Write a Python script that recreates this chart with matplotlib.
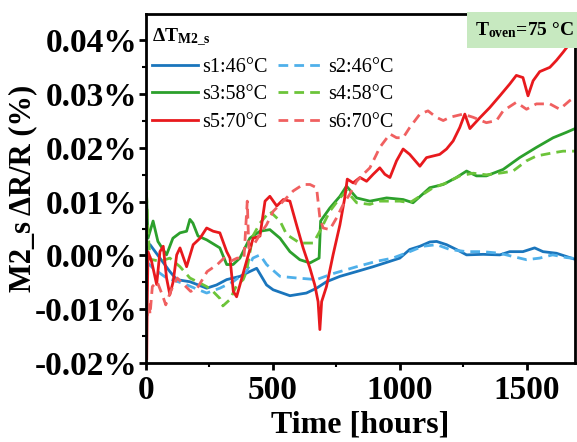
import matplotlib
matplotlib.use('Agg')
import matplotlib.pyplot as plt
from matplotlib.ticker import MultipleLocator, FuncFormatter

plt.rcParams['font.family'] = ['Liberation Serif', 'DejaVu Serif']
plt.rcParams['mathtext.fontset'] = 'custom'
plt.rcParams['mathtext.rm'] = 'Liberation Serif:bold'
plt.rcParams['mathtext.bf'] = 'Liberation Serif:bold'
plt.rcParams['mathtext.it'] = 'Liberation Serif:bold'

# data (hours, dR/R in %)
s1_t = [0, 16, 55, 94, 121, 173, 239, 278, 318, 370, 409, 436, 475, 501, 567, 632, 672, 711,
        764, 830, 895, 961, 1000, 1039, 1079, 1118, 1145, 1184, 1223, 1263, 1328, 1394, 1433,
        1485, 1531, 1564, 1617, 1656, 1695]
s1_v = [0.0010, 0.0020, -0.0005, -0.0030, -0.0045, -0.0049, -0.0061, -0.0055, -0.0045, -0.0039,
        -0.0030, -0.0024, -0.0055, -0.0064, -0.0075, -0.0070, -0.0061, -0.0049, -0.0039, -0.0030,
        -0.0021, -0.0011, -0.0005, 0.0011, 0.0017, 0.0025, 0.0026, 0.0020, 0.0011, 0.0001, 0.0002,
        0.0001, 0.0007, 0.0007, 0.0014, 0.0007, 0.0004, -0.0002, -0.0008]

s2_t = [0, 28, 81, 146, 239, 291, 343, 396, 421, 449, 475, 528, 593, 672, 736, 830, 908, 972,
        1039, 1091, 1145, 1197, 1263, 1327, 1394, 1445, 1499, 1551, 1602, 1656, 1695]
s2_v = [-0.0011, -0.0024, -0.0042, -0.0052, -0.0070, -0.0061, -0.0049, -0.0030, -0.0005, 0.0001,
        -0.0017, -0.0039, -0.0042, -0.0045, -0.0034, -0.0021, -0.0011, -0.0005, 0.0007, 0.0017,
        0.0020, 0.0011, 0.0007, 0.0007, 0.0004, -0.0002, -0.0008, -0.0005, 0.0001, -0.0004,
        -0.0006]

s3_t = [2, 8, 28, 47, 81, 106, 134, 160, 173, 185, 205, 239, 291, 318, 343, 370, 409, 449, 488,
        528, 567, 606, 646, 682, 688, 724, 764, 790, 830, 882, 948, 1013, 1052, 1118, 1171, 1223,
        1263, 1302, 1341, 1407, 1472, 1538, 1604, 1656, 1695]
s3_v = [0.0116, 0.0032, 0.0064, 0.0026, 0.0001, 0.0032, 0.0042, 0.0045, 0.0067, 0.0060, 0.0036,
        0.0029, 0.0014, -0.0017, -0.0017, -0.0005, 0.0032, 0.0045, 0.0048, 0.0032, 0.0007,
        -0.0008, -0.0014, -0.0005, 0.0064, 0.0088, 0.0110, 0.0129, 0.0107, 0.0101, 0.0107,
        0.0104, 0.0098, 0.0126, 0.0132, 0.0145, 0.0157, 0.0148, 0.0148, 0.0160, 0.0182, 0.0201,
        0.0219, 0.0229, 0.0237]

s4_t = [2, 8, 16, 55, 94, 134, 173, 239, 264, 291, 303, 331, 357, 383, 396, 421, 449, 488, 528,
        554, 606, 659, 685, 724, 764, 790, 830, 882, 921, 1000, 1039, 1079, 1131, 1184, 1236,
        1289, 1341, 1407, 1446, 1499, 1538, 1604, 1643, 1693]
s4_v = [0.0116, 0.0045, -0.0007, -0.0011, -0.0005, -0.0021, -0.0042, -0.0058, -0.0067, -0.0080,
        -0.0094, -0.0082, -0.0056, -0.0045, -0.0030, 0.0036, 0.0060, 0.0082, 0.0064, 0.0039,
        0.0023, 0.0023, 0.0045, 0.0082, 0.0107, 0.0120, 0.0098, 0.0095, 0.0101, 0.0101, 0.0098,
        0.0110, 0.0126, 0.0135, 0.0148, 0.0153, 0.0150, 0.0154, 0.0157, 0.0176, 0.0185, 0.0191,
        0.0194, 0.0194]

s5_t = [3, 5, 8, 22, 42, 55, 68, 81, 94, 107, 121, 134, 160, 186, 213, 239, 265, 291, 318, 331,
        344, 357, 370, 396, 422, 449, 469, 488, 515, 541, 567, 593, 619, 646, 665, 678, 685, 692,
        711, 737, 764, 783, 793, 816, 843, 869, 895, 921, 941, 961, 987, 1013, 1039, 1079, 1105,
        1157, 1184, 1210, 1236, 1256, 1276, 1315, 1354, 1394, 1433, 1459, 1485, 1505, 1525, 1551,
        1591, 1617, 1643, 1669, 1689]
s5_v = [-0.0192, -0.0086, 0.0007, -0.0011, -0.0054, 0.0007, 0.0017, -0.0042, -0.0073, -0.0049,
        0.0001, 0.0014, -0.0021, 0.0020, 0.0032, 0.0051, 0.0045, 0.0042, 0.0007, -0.0005, -0.0067,
        -0.0077, -0.0055, -0.0011, 0.0032, 0.0036, 0.0101, 0.0110, 0.0092, 0.0104, 0.0101, 0.0057,
        0.0014, -0.0024, -0.0055, -0.0086, -0.0138, -0.0086, -0.0058, 0.0001, 0.0057, 0.0107,
        0.0142, 0.0135, 0.0145, 0.0138, 0.0151, 0.0163, 0.0151, 0.0145, 0.0176, 0.0198, 0.0188,
        0.0166, 0.0182, 0.0188, 0.0198, 0.0213, 0.0238, 0.0263, 0.0236, 0.0256, 0.0275, 0.0297,
        0.0319, 0.0335, 0.0331, 0.0297, 0.0325, 0.0342, 0.0350, 0.0363, 0.0378, 0.0394, 0.0406]

s6_t = [2, 4, 12, 16, 25, 44, 64, 78, 97, 123, 176, 202, 241, 281, 307, 333, 359, 386, 399, 405,
        425, 449, 475, 501, 541, 580, 619, 646, 672, 685, 698, 724, 751, 777, 803, 830, 856, 882,
        908, 921, 961, 987, 1013, 1039, 1079, 1111, 1144, 1171, 1197, 1249, 1289, 1341, 1381,
        1407, 1459, 1499, 1538, 1591, 1630, 1669, 1689]
s6_v = [-0.0036, -0.0118, -0.0086, -0.0110, -0.0058, -0.0049, -0.0073, -0.0092, -0.0067, -0.0042,
        -0.0067, -0.0061, -0.0030, -0.0017, -0.0005, -0.0011, -0.0005, -0.0005, 0.0101, 0.0014,
        0.0020, 0.0039, 0.0057, 0.0082, 0.0101, 0.0120, 0.0132, 0.0132, 0.0126, 0.0070, 0.0051,
        0.0048, 0.0070, 0.0095, 0.0114, 0.0138, 0.0151, 0.0163, 0.0188, 0.0201, 0.0226, 0.0219,
        0.0219, 0.0238, 0.0263, 0.0269, 0.0257, 0.0251, 0.0257, 0.0263, 0.0257, 0.0247, 0.0251,
        0.0269, 0.0285, 0.0272, 0.0282, 0.0282, 0.0272, 0.0288, 0.0294]

labels = ['s1:46°C', 's2:46°C', 's3:58°C', 's4:58°C', 's5:70°C', 's6:70°C']

fig = plt.figure(figsize=(5.77, 4.42), dpi=100)
ax = fig.add_axes([0.253, 0.179, 0.7435, 0.789])

dash = (3.5, 2.2)
l1, = ax.plot(s1_t, s1_v, color='#1a75bc', lw=2, label=labels[0])
l2, = ax.plot(s2_t, s2_v, color='#4fb0ea', lw=2, dashes=dash, label=labels[1])
l3, = ax.plot(s3_t, s3_v, color='#2ca02c', lw=2, label=labels[2])
l4, = ax.plot(s4_t, s4_v, color='#6cc43a', lw=2, dashes=dash, label=labels[3])
l5, = ax.plot(s5_t, s5_v, color='#e8191d', lw=2, label=labels[4])
l6, = ax.plot(s6_t, s6_v, color='#f06060', lw=2, dashes=dash, label=labels[5])

ax.set_xlim(0, 1690)
ax.set_ylim(-0.02, 0.0449)
ax.xaxis.set_major_locator(MultipleLocator(500))
ax.xaxis.set_minor_locator(MultipleLocator(250))
ax.yaxis.set_major_locator(MultipleLocator(0.01))
ax.yaxis.set_minor_locator(MultipleLocator(0.005))
ax.yaxis.set_major_formatter(FuncFormatter(lambda v, p: f'{v:.2f}%'))

for sp in ax.spines.values():
    sp.set_linewidth(2)
ax.tick_params(which='major', direction='out', length=5, width=2, labelsize=24, pad=1)
ax.tick_params(axis='x', which='major', pad=4)
ax.tick_params(which='minor', direction='out', length=3, width=1.5)
for lab in ax.get_xticklabels() + ax.get_yticklabels():
    lab.set_fontweight('bold')

ax.set_xlabel('Time [hours]', fontsize=23, fontweight='bold', labelpad=3)
ax.set_ylabel('M2_s ΔR/R (%)', fontsize=22, fontweight='bold', labelpad=-2)

# row order: s1 s2 / s3 s4 / s5 s6
leg = ax.legend(handles=[l1, l3, l5, l2, l4, l6], ncol=2, loc='upper left',
                bbox_to_anchor=(-0.017, 1.0),
                title=r'$\mathbf{\Delta T_{M2\_s}}$', title_fontsize=14, fontsize=14.5,
                frameon=False, handlelength=2.3, handletextpad=0.2, columnspacing=0.5,
                labelspacing=0.42, borderaxespad=0.1, borderpad=0.55)
leg._legend_box.align = 'left'

ax.text(0.998, 0.982, r'$\mathbf{T_{oven}}$=75 °C', transform=ax.transAxes, ha='right', va='top',
        fontsize=14, fontweight='bold',
        bbox=dict(boxstyle='square,pad=0.42', facecolor='#c7e9c0', edgecolor='none'))

fig.savefig('out.png', dpi=100)
